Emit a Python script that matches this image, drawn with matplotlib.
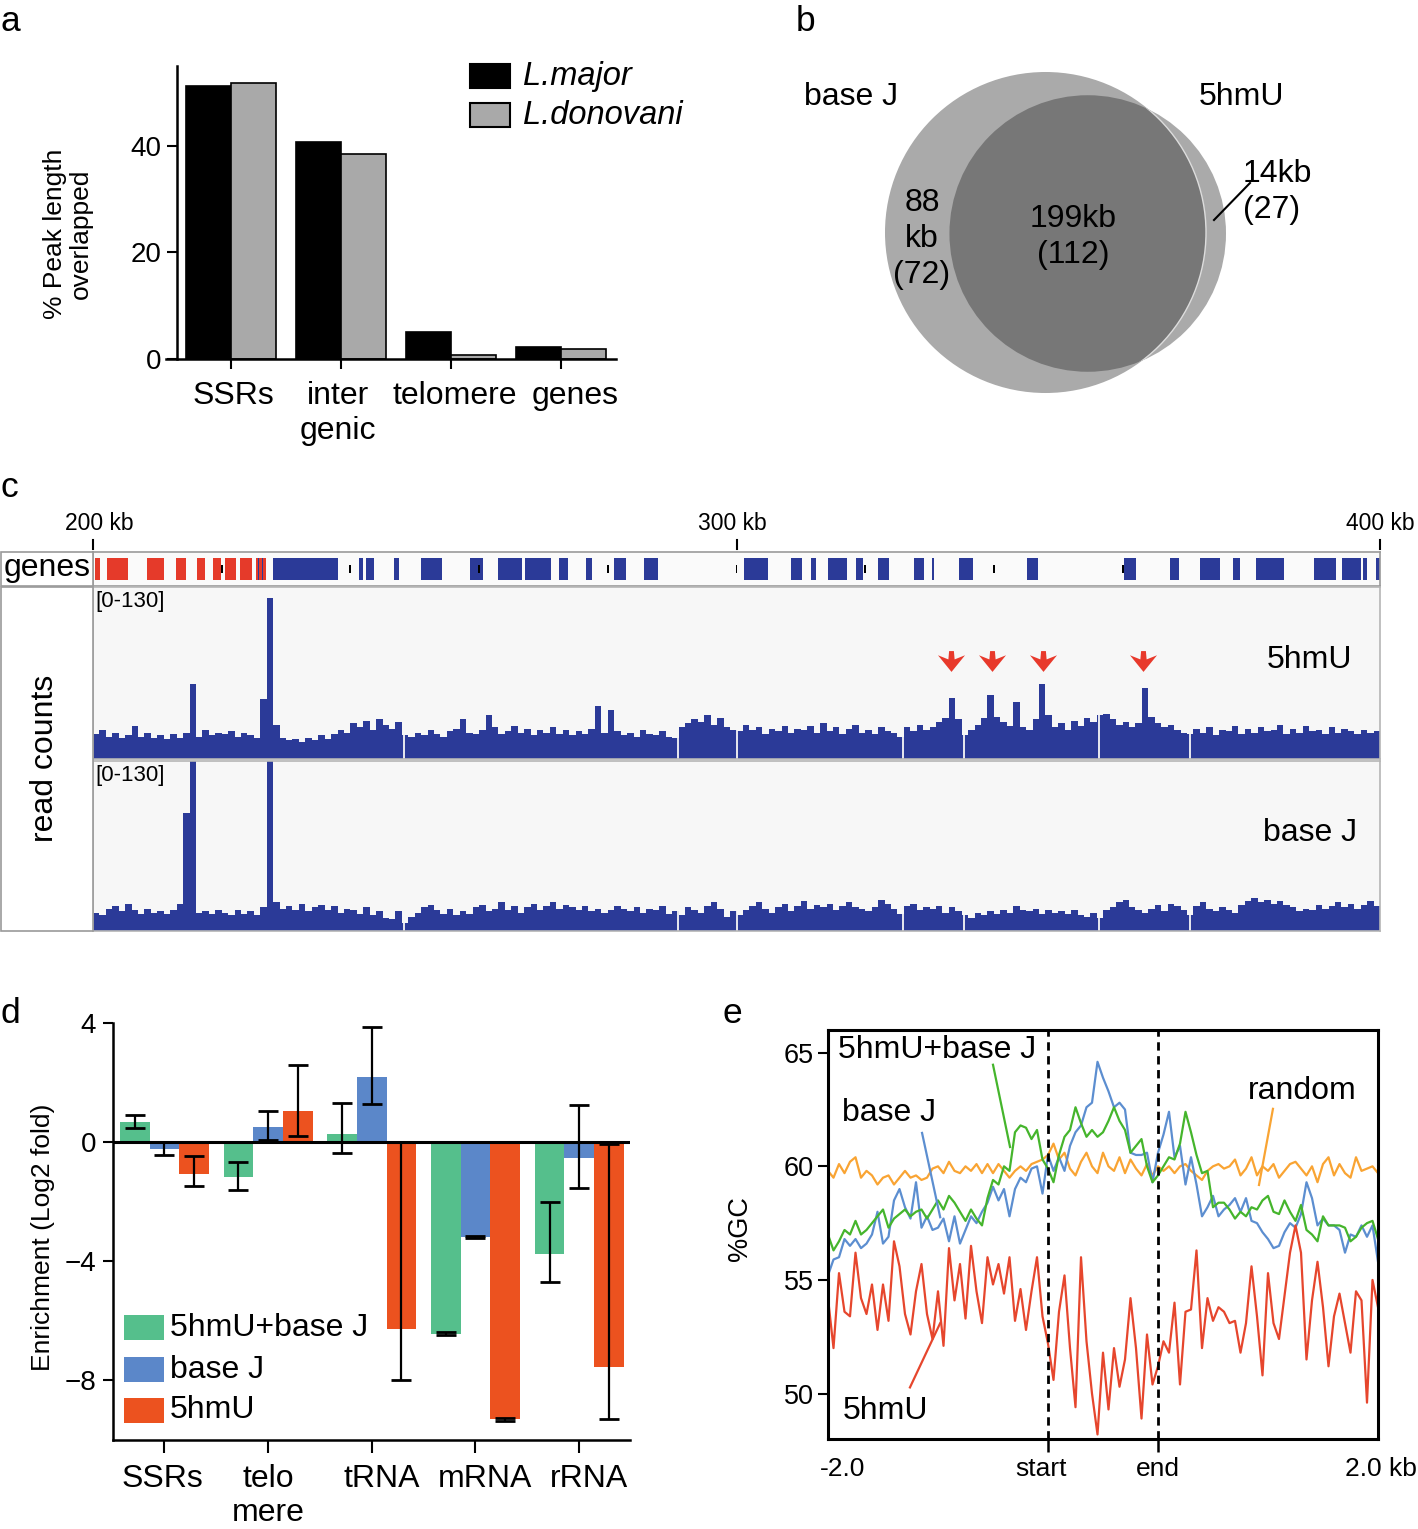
import numpy as np
import matplotlib
matplotlib.use("Agg")
import matplotlib.pyplot as plt
from matplotlib.patches import Rectangle, Circle
from matplotlib.path import Path
from matplotlib.transforms import blended_transform_factory, ScaledTranslation

plt.rcParams['font.family'] = ['Liberation Sans', 'DejaVu Sans']

W, H = 1418, 1529
fig = plt.figure(figsize=(W / 100, H / 100), dpi=100)


def px_axes(x0, y0, x1, y1):
    # axes placed by pixel box (top-left origin)
    return fig.add_axes([x0 / W, 1 - y1 / H, (x1 - x0) / W, (y1 - y0) / H])


def nudge_xlabels(ax, shifts_px):
    # small horizontal shifts of tick labels, in pixels
    for lab, dx in zip(ax.get_xticklabels(), shifts_px):
        lab.set_transform(lab.get_transform() + ScaledTranslation(dx / 100, 0, fig.dpi_scale_trans))


# ---------------------------------------------------------------- data
# panel a
a_categories = ["SSRs", "inter\ngenic", "telomere", "genes"]
a_major = [51.3, 40.7, 5.0, 2.3]
a_donovani = [51.8, 38.5, 0.8, 1.9]

# panel b (kb covered, peak counts)
venn_names = ["base J", "5hmU"]
venn_only_kb = [88, 14]
venn_only_n = [72, 27]
venn_shared_kb = 199
venn_shared_n = 112

# panel c: genes (kb) and read counts in 1 kb bins from 200 to 400 kb
genes_red = [(200.3, 201.1), (202.2, 205.4), (208.4, 211.0), (212.9, 214.5), (216.2, 217.4),
             (218.6, 219.9), (220.5, 222.2), (222.8, 224.7), (225.3, 226.9)]
genes_blue = [(225.6, 225.75), (226.3, 226.45),
              (228.0, 238.1), (241.3, 242.0), (242.4, 243.7), (246.8, 247.6), (251.0, 254.2),
              (258.6, 260.6), (262.9, 266.7), (267.1, 271.2), (272.4, 273.8), (276.6, 277.5),
              (281.0, 282.8), (285.6, 287.8), (301.2, 304.9), (308.5, 310.2), (311.6, 312.4),
              (314.2, 317.2), (318.6, 319.7), (322.0, 323.7), (327.6, 329.1), (330.4, 330.7),
              (334.6, 336.8), (345.1, 346.9), (360.2, 362.1), (367.4, 368.8), (372.0, 375.1),
              (377.2, 378.2), (380.7, 385.1), (389.7, 393.2), (394.1, 397.1), (397.4, 398.0),
              (399.4, 400.0)]
gene_marks_kb = [220, 240, 260, 280, 300, 320, 340, 360]
gap_kb = [248.4, 290.9, 300.0, 325.8, 335.4, 356.3, 370.5]
arrow_kb = [333.4, 339.7, 347.6, 363.2]

cov_5hmu = [19, 22, 17, 20, 16, 18, 25, 17, 20, 16,
            18, 15, 19, 16, 20, 57, 17, 22, 18, 20,
            19, 21, 17, 20, 18, 16, 45, 122, 26, 16,
            14, 15, 13, 16, 14, 18, 15, 19, 22, 20,
            27, 24, 29, 22, 30, 26, 23, 28, 18, 17,
            20, 18, 22, 19, 17, 21, 23, 30, 20, 19,
            22, 33, 24, 19, 21, 25, 20, 23, 18, 22,
            20, 24, 19, 22, 18, 21, 19, 23, 40, 20,
            37, 21, 18, 20, 17, 22, 19, 18, 21, 17,
            16, 24, 27, 30, 28, 33, 26, 31, 24, 22,
            21, 26, 22, 24, 19, 23, 21, 25, 20, 23,
            22, 25, 20, 27, 21, 24, 19, 23, 26, 20,
            22, 19, 24, 21, 20, 17, 24, 21, 26, 22,
            24, 28, 31, 46, 30, 18, 22, 26, 31, 48,
            32, 28, 25, 43, 24, 22, 30, 57, 33, 24,
            27, 22, 29, 25, 31, 28, 33, 34, 30, 26,
            28, 24, 27, 54, 32, 27, 24, 26, 22, 20,
            19, 23, 20, 24, 18, 22, 21, 25, 19, 23,
            20, 24, 21, 22, 26, 19, 23, 20, 25, 21,
            22, 19, 24, 20, 23, 21, 19, 22, 20, 21]
cov_basej = [14, 12, 17, 19, 15, 21, 16, 13, 17, 14,
             15, 13, 16, 21, 90, 160, 14, 15, 13, 16,
             14, 12, 16, 13, 15, 12, 18, 160, 22, 17,
             19, 16, 21, 15, 18, 20, 16, 19, 14, 17,
             16, 13, 18, 12, 15, 10, 9, 15, 6, 11,
             14, 18, 20, 16, 13, 17, 12, 15, 13, 18,
             20, 15, 17, 22, 16, 19, 14, 18, 21, 16,
             19, 22, 17, 20, 18, 16, 19, 15, 17, 14,
             16, 19, 17, 15, 18, 14, 17, 16, 19, 13,
             15, 12, 18, 16, 14, 19, 22, 17, 11, 15,
             12, 16, 19, 22, 17, 14, 18, 21, 15, 19,
             23, 17, 20, 18, 21, 16, 19, 22, 18, 17,
             15, 18, 24, 21, 17, 13, 19, 21, 16, 18,
             17, 19, 14, 18, 15, 12, 10, 14, 12, 15,
             13, 16, 14, 19, 16, 15, 17, 13, 16, 14,
             15, 13, 16, 12, 11, 14, 10, 16, 18, 22,
             24, 18, 16, 14, 17, 20, 15, 21, 19, 16,
             12, 19, 22, 17, 15, 18, 16, 14, 20, 23,
             25, 22, 24, 21, 23, 20, 18, 15, 17, 16,
             20, 17, 19, 22, 18, 21, 17, 20, 23, 19]

# panel d
d_categories = ["SSRs", "telo\nmere", "tRNA", "mRNA", "rRNA"]
d_names = ["5hmU+base J", "base J", "5hmU"]
d_both = [0.67, -1.17, 0.27, -6.43, -3.76]
d_both_lo = [0.18, 0.43, 0.63, 0.04, 0.94]
d_both_hi = [0.23, 0.52, 1.06, 0.04, 1.75]
d_basej = [-0.22, 0.50, 2.18, -3.18, -0.53]
d_basej_lo = [0.20, 0.42, 0.89, 0.04, 1.01]
d_basej_hi = [0.22, 0.54, 1.67, 0.04, 1.77]
d_5hmu = [-1.06, 1.06, -6.29, -9.31, -7.55]
d_5hmu_lo = [0.40, 0.84, 1.69, 0.04, 1.73]
d_5hmu_hi = [0.61, 1.53, 6.29, 0.04, 7.48]

# panel e: %GC profiles, 2 kb up, scaled body, 2 kb down (101 points)
gc_5hmu = [54.2, 52.0, 55.3, 53.6, 53.4, 56.2, 54.2, 53.5, 54.8, 52.8,
           54.8, 53.2, 56.7, 55.6, 53.5, 52.6, 54.5, 55.7, 53.5, 52.4,
           54.5, 52.1, 56.4, 54.1, 55.7, 53.3, 56.5, 54.5, 53.1, 56.0,
           54.8, 55.7, 54.4, 56.0, 53.2, 54.6, 52.8, 54.5, 56.0, 53.4,
           52.2, 50.6, 53.6, 55.2, 52.0, 49.4, 56.0, 52.3, 50.0, 48.2,
           51.8, 49.3, 52.0, 50.3, 51.5, 54.2, 52.0, 48.9, 52.6, 50.4,
           51.2, 52.3, 51.8, 54.0, 50.4, 53.6, 53.7, 56.3, 52.0, 54.2,
           53.2, 53.8, 53.6, 53.1, 53.2, 51.8, 53.1, 55.6, 53.4, 50.8,
           55.3, 53.1, 52.4, 54.3, 56.2, 57.4, 56.2, 51.5, 54.1, 55.8,
           53.8, 51.2, 53.4, 54.4, 53.1, 51.8, 54.5, 54.1, 49.6, 55.0, 53.8]
gc_random = [59.8, 59.5, 60.1, 59.7, 60.2, 60.4, 59.5, 59.8, 59.6, 59.2,
             59.5, 59.6, 59.2, 59.5, 59.8, 59.5, 59.6, 59.4, 59.5, 59.9,
             60.0, 59.7, 60.2, 59.8, 59.7, 60.0, 59.8, 60.1, 59.7, 60.1,
             59.7, 60.1, 59.8, 59.5, 59.8, 60.0, 59.8, 60.1, 60.2, 60.3,
             60.5, 61.0, 60.3, 60.6, 59.9, 59.6, 60.2, 60.6, 60.0, 59.7,
             60.6, 60.0, 59.8, 60.4, 59.7, 60.3, 59.9, 59.6, 60.1, 59.6,
             60.0, 59.8, 60.0, 59.7, 60.0, 60.1, 59.8, 59.6, 59.4, 59.8,
             60.0, 60.1, 59.9, 60.0, 60.3, 59.6, 59.9, 60.4, 59.6, 60.0,
             59.8, 60.1, 59.5, 59.8, 60.1, 60.2, 59.9, 59.6, 60.0, 59.3,
             60.1, 60.4, 59.6, 60.1, 59.7, 59.5, 60.4, 59.8, 59.9, 60.0, 59.7]
gc_both = [57.0, 56.3, 56.7, 57.2, 57.0, 57.6, 57.0, 57.2, 57.5, 57.8,
           58.1, 57.3, 57.7, 57.9, 58.1, 57.8, 58.0, 58.1, 57.7, 58.1,
           58.5, 58.1, 58.7, 58.4, 58.0, 57.6, 58.1, 57.7, 57.4, 58.6,
           59.4, 59.2, 60.0, 59.8, 61.5, 61.8, 61.7, 61.2, 61.6, 60.3,
           59.9, 59.3, 60.5, 61.3, 61.6, 62.6, 61.9, 61.3, 61.6, 61.3,
           61.5, 62.0, 62.6, 62.0, 61.6, 60.6, 60.9, 61.2, 60.0, 59.3,
           59.6, 60.0, 60.4, 60.3, 61.0, 62.4, 61.5, 60.5, 59.7, 59.8,
           58.2, 58.4, 58.4, 58.1, 57.7, 58.0, 57.8, 58.2, 58.1, 58.5,
           58.7, 58.0, 57.9, 58.5, 58.0, 57.6, 58.3, 57.2, 57.0, 56.7,
           57.8, 57.4, 57.4, 57.4, 57.3, 56.7, 56.9, 57.3, 57.5, 57.6, 56.8]
gc_basej = [55.2, 55.9, 56.0, 56.8, 56.5, 56.8, 56.4, 56.6, 57.0, 58.0,
            56.6, 56.9, 58.5, 59.0, 58.2, 57.7, 59.3, 57.3, 57.8, 57.2,
            57.3, 57.7, 56.7, 57.8, 56.6, 57.2, 57.8, 57.5, 58.0, 58.4,
            59.1, 58.5, 59.0, 57.8, 59.0, 59.5, 59.3, 59.9, 60.0, 58.8,
            60.5, 59.8, 60.4, 59.8, 60.9, 61.5, 61.8, 62.6, 62.8, 64.6,
            63.9, 63.3, 62.6, 62.8, 62.5, 60.6, 60.5, 60.5, 60.6, 59.3,
            60.6, 61.4, 62.4, 60.4, 60.9, 59.2, 60.4, 59.2, 57.8, 58.2,
            58.7, 57.8, 58.1, 58.3, 58.6, 58.0, 58.6, 57.6, 57.5, 57.1,
            56.8, 56.4, 56.5, 57.1, 57.5, 57.3, 57.9, 59.3, 58.6, 57.4,
            57.7, 57.4, 57.4, 57.2, 56.2, 57.0, 56.9, 57.4, 56.9, 57.4, 55.8]

# colours
TRACK_BLUE = "#2b3a98"
GENE_RED = "#e53a2a"
GREEN_D, BLUE_D, RED_D = "#55bf8c", "#5b87c9", "#ec521f"
C_RANDOM, C_BOTH, C_BASEJ, C_5HMU = "#f9a433", "#45b52c", "#5c8ed0", "#e6462d"

# ---------------------------------------------------------------- panel a
ax_a = px_axes(166, 66, 616, 359)
xa = np.arange(len(a_categories))
bw = 0.41
ax_a.bar(xa - bw / 2, a_major, bw, color="black", edgecolor="black", linewidth=1.2)
ax_a.bar(xa + bw / 2, a_donovani, bw, color="#a9a9a9", edgecolor="black", linewidth=1.2)
ax_a.set_xlim(-0.591, 3.5)
ax_a.set_ylim(0, 55)
ax_a.spines[["top", "right"]].set_visible(False)
ax_a.spines["left"].set_position(("data", -0.491))
ax_a.spines[["left", "bottom"]].set_linewidth(1.8)
ax_a.set_yticks([0, 20, 40])
ax_a.set_xticks(xa, a_categories)
ax_a.tick_params(axis="y", length=7, width=1.5, labelsize=20, pad=4)
ax_a.tick_params(axis="x", length=7, width=1.5, labelsize=23, pad=9)
nudge_xlabels(ax_a, [2, -3, 4, 14])

# ---------------------------------------------------------------- panel c
ax_g = px_axes(93, 552, 1380, 586)
ax_g.set_xlim(200, 400)
ax_g.set_ylim(0, 1)
ax_g.set_facecolor("#fafafa")
for s, e in genes_red:
    ax_g.add_patch(Rectangle((s, 0.18), e - s, 0.64, fc=GENE_RED, ec="none"))
for s, e in genes_blue:
    ax_g.add_patch(Rectangle((s, 0.18), e - s, 0.64, fc=TRACK_BLUE, ec="none"))
for m in gene_marks_kb:
    ax_g.add_patch(Rectangle((m - 0.15, 0.38), 0.3, 0.24, fc="black", ec="none"))
ax_g.set_xticks([])
ax_g.set_yticks([])
for sp in ax_g.spines.values():
    sp.set_color("#9a9a9a")
    sp.set_linewidth(1.2)

ruler = blended_transform_factory(ax_g.transData, ax_g.transAxes)
for kb, dx in [(200, 1.0), (300, -0.6), (400, 0.0)]:
    ax_g.plot([kb, kb], [1.09, 1.35], color="black", lw=1.5, transform=ruler, clip_on=False)
    ax_g.text(kb + dx, 1.85, f"{kb} kb", transform=ruler, ha="center", va="center", fontsize=16.5)

kb_edges = np.arange(200, 401)
track_axes = []
for (y0, y1), cov in [((587, 759), cov_5hmu), ((761, 931), cov_basej)]:
    ax = px_axes(93, y0, 1380, y1)
    ax.set_facecolor("#f7f7f7")
    ax.fill_between(kb_edges, np.append(cov, cov[-1]), step="post", color=TRACK_BLUE, lw=0)
    for g in gap_kb:
        ax.axvline(g, color="#f7f7f7", lw=1.3)
    ax.set_xlim(200, 400)
    ax.set_ylim(0, 130)
    ax.set_xticks([])
    ax.set_yticks([])
    for sp in ax.spines.values():
        sp.set_color("#b5b5b5")
        sp.set_linewidth(1.2)
    ax.text(0.002, 0.975, "[0-130]", transform=ax.transAxes, ha="left", va="top", fontsize=16)
    track_axes.append(ax)

# red arrows over the 5hmU-only peaks
arrow_path = Path([(0, -10), (13, 6), (3, 2), (2.3, 10), (-2.3, 10), (-3, 2),
                   (-13, 6), (0, -10)], closed=True)
track_axes[0].plot(arrow_kb, [73.7] * len(arrow_kb), ls="none", marker=arrow_path,
                   ms=19.5, mfc="#e8392b", mec="none")

# ---------------------------------------------------------------- panel d
ax_d = px_axes(113, 1023, 630, 1440)
xd = np.arange(len(d_categories))
bwd = 0.286
for off, vals, lo, hi, col, name in [(-bwd, d_both, d_both_lo, d_both_hi, GREEN_D, d_names[0]),
                                     (0, d_basej, d_basej_lo, d_basej_hi, BLUE_D, d_names[1]),
                                     (bwd, d_5hmu, d_5hmu_lo, d_5hmu_hi, RED_D, d_names[2])]:
    ax_d.bar(xd + off, vals, bwd, color=col, label=name, zorder=2)
    ax_d.errorbar(xd + off, vals, yerr=[lo, hi], fmt="none", ecolor="black",
                  elinewidth=1.6, capsize=7, capthick=2, zorder=4)
ax_d.axhline(0, color="black", lw=2.2, zorder=3)
ax_d.set_xlim(-0.495, 4.49)
ax_d.set_ylim(-10, 4)
ax_d.spines[["top", "right"]].set_visible(False)
ax_d.spines[["left", "bottom"]].set_linewidth(1.8)
ax_d.set_yticks([4, 0, -4, -8], ["4", "0", "\u22124", "\u22128"])
ax_d.set_xticks(xd, d_categories)
ax_d.tick_params(axis="y", length=7, width=1.5, labelsize=20, pad=5)
ax_d.tick_params(axis="x", length=9, width=1.5, labelsize=23, pad=8)
nudge_xlabels(ax_d, [-2, 0, 10, 10, 10])

# ---------------------------------------------------------------- panel e
ax_e = px_axes(828, 1030, 1378, 1439)
xe = np.linspace(-2, 3, len(gc_5hmu))
ax_e.plot(xe, gc_random, color=C_RANDOM, lw=1.6)
ax_e.plot(xe, gc_basej, color=C_BASEJ, lw=1.6)
ax_e.plot(xe, gc_both, color=C_BOTH, lw=1.6)
ax_e.plot(xe, gc_5hmu, color=C_5HMU, lw=1.6)
for xv in (0, 1):
    ax_e.axvline(xv, color="black", lw=2, ls=(0, (3, 2)))
ax_e.set_xlim(-2, 3)
ax_e.set_ylim(48, 66)
for sp in ax_e.spines.values():
    sp.set_linewidth(2.2)
ax_e.set_yticks([50, 55, 60, 65])
ax_e.set_xticks([-2, 0, 1, 3], ["-2.0", "start", "end", "2.0 kb"])
ax_e.tick_params(axis="y", length=7, width=1.5, labelsize=19.5, pad=3)
ax_e.tick_params(axis="x", length=9, width=1.8, labelsize=19, pad=4)
xt = ax_e.xaxis.get_major_ticks()
xt[0].tick1line.set_visible(False)
xt[-1].tick1line.set_visible(False)
nudge_xlabels(ax_e, [15, -7, 0, 3])

ax_e.text(-1.91, 65.1, "5hmU+base J", fontsize=23, va="center")
ax_e.plot([-0.5, -0.345], [64.47, 60.85], color=C_BOTH, lw=1.6)
ax_e.text(-1.87, 62.35, "base J", fontsize=23, va="center")
ax_e.plot([-1.145, -0.98], [61.47, 57.76], color=C_BASEJ, lw=1.6)
ax_e.text(-1.87, 49.25, "5hmU", fontsize=23, va="center")
ax_e.plot([-1.255, -0.98], [50.27, 53.1], color=C_5HMU, lw=1.6)
ax_e.text(1.82, 63.3, "random", fontsize=23, va="center")
ax_e.plot([2.045, 1.918], [62.53, 59.18], color=C_RANDOM, lw=1.6)

# ---------------------------------------------------------------- overlay (pixel coords)
ov = fig.add_axes([0, 0, 1, 1])
ov.set_xlim(0, W)
ov.set_ylim(H, 0)
ov.axis("off")
ov.patch.set_visible(False)

for lab, (x, y) in zip("abcde", [(1, 31), (796, 31), (1, 497), (1, 1023), (723, 1023)]):
    ov.text(x, y, lab, fontsize=25.5, ha="left", va="baseline")

# panel a legend
ov.add_patch(Rectangle((470, 64), 40, 24, fc="black", ec="black", lw=1.5))
ov.add_patch(Rectangle((470, 103), 40, 24, fc="#a9a9a9", ec="black", lw=1.5))
ov.text(523, 77, "L.major", fontsize=23.5, style="italic", va="center")
ov.text(523, 116, "L.donovani", fontsize=23.5, style="italic", va="center")
ov.text(68, 234, "% Peak length\noverlapped", fontsize=19, rotation=90,
        ha="center", va="center", linespacing=1.1)

# panel b: area-proportional Venn
px2_per_kb = 282.0
r_j = np.sqrt((venn_only_kb[0] + venn_shared_kb) * px2_per_kb / np.pi)
r_u = np.sqrt((venn_only_kb[1] + venn_shared_kb) * px2_per_kb / np.pi)


def lens_area(d, r1, r2):
    if d >= r1 + r2:
        return 0.0
    if d <= abs(r1 - r2):
        return np.pi * min(r1, r2) ** 2
    a1 = r1 ** 2 * np.arccos((d * d + r1 * r1 - r2 * r2) / (2 * d * r1))
    a2 = r2 ** 2 * np.arccos((d * d + r2 * r2 - r1 * r1) / (2 * d * r2))
    a3 = 0.5 * np.sqrt((-d + r1 + r2) * (d + r1 - r2) * (d - r1 + r2) * (d + r1 + r2))
    return a1 + a2 - a3


lo, hi = abs(r_j - r_u) + 1e-6, r_j + r_u
for _ in range(60):
    mid = (lo + hi) / 2
    if lens_area(mid, r_j, r_u) > venn_shared_kb * px2_per_kb:
        lo = mid
    else:
        hi = mid
dist = (lo + hi) / 2
cj = (1045.5, 232.5)
cu = (cj[0] + dist, 233.5)
LIGHT, DARK = "#aaaaaa", "#777777"
circ_j = Circle(cj, r_j, fc=LIGHT, ec="none")
circ_u = Circle(cu, r_u, fc=LIGHT, ec="none")
ov.add_patch(circ_j)
ov.add_patch(circ_u)
inter = Circle(cu, r_u, fc=DARK, ec="none")
ov.add_patch(inter)
inter.set_clip_path(circ_j)
edge = Circle(cj, r_j, fill=False, ec="#dddddd", lw=1.0)
ov.add_patch(edge)
edge.set_clip_path(circ_u)

ov.text(851, 97, venn_names[0], fontsize=23, ha="center", va="center")
ov.text(1241, 97, venn_names[1], fontsize=23, ha="center", va="center")
ov.text(922, 239, f"{venn_only_kb[0]}\nkb\n({venn_only_n[0]})", fontsize=23,
        ha="center", va="center", linespacing=1.25)
ov.text(1073, 237, f"{venn_shared_kb}kb\n({venn_shared_n})", fontsize=23,
        ha="center", va="center", linespacing=1.25)
ov.text(1243, 192, f"{venn_only_kb[1]}kb\n({venn_only_n[1]})", fontsize=23,
        ha="left", va="center", linespacing=1.25)
ov.plot([1214, 1250], [220, 183], color="black", lw=1.5)

# panel c name column and track labels
ov.add_patch(Rectangle((0.5, 552), 92.5, 34, fc="white", ec="#9a9a9a", lw=1.2))
ov.add_patch(Rectangle((0.5, 587), 92.5, 344, fc="white", ec="#9a9a9a", lw=1.2))
ov.text(47, 568, "genes", fontsize=23, ha="center", va="center")
ov.text(45, 758, "read counts", fontsize=23, rotation=90, ha="center", va="center")
ov.text(1309, 660, "5hmU", fontsize=23, ha="center", va="center")
ov.text(1310, 833, "base J", fontsize=23, ha="center", va="center")

# panel d legend and label
for (y, col, name) in [(1315, GREEN_D, d_names[0]), (1357, BLUE_D, d_names[1]),
                       (1398, RED_D, d_names[2])]:
    ov.add_patch(Rectangle((124, y), 40, 25, fc=col, ec="none"))
    ov.text(170, y + 12.5, name, fontsize=23, va="center")
ov.text(43, 1237, "Enrichment (Log2 fold)", fontsize=19, rotation=90, ha="center", va="center")

# panel e label
ov.text(740, 1229, "%GC", fontsize=19.5, rotation=90, ha="center", va="center")

fig.savefig("out.png", dpi=100)
